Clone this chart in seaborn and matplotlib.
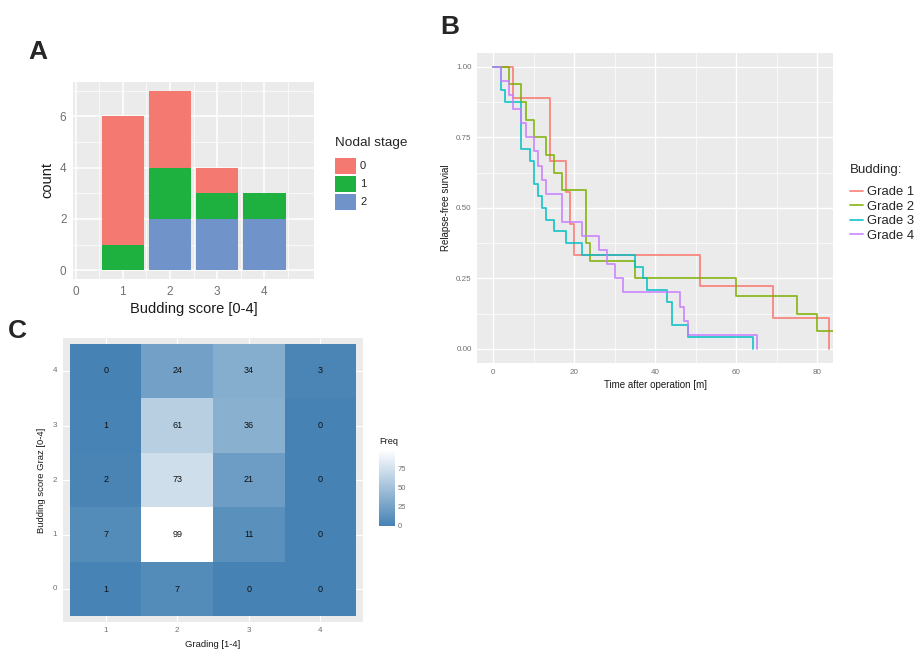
import numpy as np
import pandas as pd
import matplotlib
matplotlib.use("Agg")
import matplotlib.pyplot as plt
import seaborn as sns
from matplotlib.colors import LinearSegmentedColormap
from matplotlib.patches import Patch
from matplotlib.lines import Line2D

# --- A: budding score vs nodal stage (counts)
scores = [1, 2, 3, 4]
stage0 = [5, 3, 1, 0]
stage1 = [1, 2, 1, 1]
stage2 = [0, 2, 2, 2]
stage_labels = ["0", "1", "2"]
stage_colors = ["#F47A71", "#1EB13F", "#7094CA"]

# --- B: relapse-free survival steps per budding grade
g1_time = [0, 5, 14, 18, 19, 20, 51, 69, 82.8]
g1_surv = [1, 0.889, 0.667, 0.556, 0.444, 0.333, 0.222, 0.111, 0]
g2_time = [0, 4, 7, 8, 10, 13, 15, 17, 23, 24, 35, 60, 75, 80, 84]
g2_surv = [1, 0.9375, 0.875, 0.8125, 0.75, 0.6875, 0.625, 0.5625, 0.375,
           0.3125, 0.25, 0.1875, 0.125, 0.0625, 0.0625]
g3_time = [0, 2, 3, 7, 9, 10, 11, 12, 13, 15, 18, 22, 35, 37, 38, 43, 44, 48, 64]
g3_surv = [1, 0.917, 0.875, 0.708, 0.667, 0.583, 0.542, 0.5, 0.458, 0.417,
           0.375, 0.333, 0.292, 0.25, 0.208, 0.167, 0.083, 0.042, 0]
g4_time = [0, 2, 4, 5, 7, 8, 10, 11, 12, 13, 17, 22, 26, 28, 30, 32, 46, 47, 48, 65]
g4_surv = [1, 0.95, 0.9, 0.85, 0.8, 0.75, 0.7, 0.65, 0.6, 0.55, 0.45, 0.4,
           0.35, 0.3, 0.25, 0.2, 0.15, 0.1, 0.05, 0]
grade_labels = ["Grade 1", "Grade 2", "Grade 3", "Grade 4"]
grade_colors = ["#F8766D", "#7CAE00", "#00BFC4", "#C77CFF"]

# --- C: budding score Graz vs grading
grading = ["1", "2", "3", "4"]
budding_graz = ["4", "3", "2", "1", "0"]
freq = [[0, 24, 34, 3],
        [1, 61, 36, 0],
        [2, 73, 21, 0],
        [7, 99, 11, 0],
        [1, 7, 0, 0]]

sns.set_theme(style="darkgrid", rc={
    "axes.facecolor": "#EBEBEB", "grid.color": "white", "axes.linewidth": 0,
    "xtick.major.size": 2.5, "ytick.major.size": 2.5,
    "xtick.major.width": 0.6, "ytick.major.width": 0.6,
    "xtick.color": "#333333", "ytick.color": "#333333",
})
plt.rcParams["font.family"] = ["Liberation Sans", "DejaVu Sans"]

W, H = 921, 654
fig = plt.figure(figsize=(9.21, 6.54), dpi=100)

def box(l, t, r, b):
    return [l / W, 1 - b / H, (r - l) / W, (b - t) / H]

tick_grey = "#707070"

# ---------------- panel A
axA = fig.add_axes(box(72.7, 81.7, 314, 279.3))
dfA = pd.DataFrame({"score": scores * 3,
                    "stage": ["0"] * 4 + ["1"] * 4 + ["2"] * 4,
                    "n": stage0 + stage1 + stage2})
sns.histplot(data=dfA, x="score", hue="stage", weights="n", multiple="stack",
             discrete=True, shrink=0.9, hue_order=stage_labels,
             palette=stage_colors, alpha=1, linewidth=0, legend=False, ax=axA)
axA.set_xlim(-0.06, 5.05)
axA.set_ylim(-0.35, 7.35)
axA.set_xticks([0, 1, 2, 3, 4])
axA.set_yticks([0, 2, 4, 6])
axA.set_xticks([0.5, 1.5, 2.5, 3.5, 4.5], minor=True)
axA.set_yticks([1, 3, 5, 7], minor=True)
axA.grid(which="major", linewidth=1.1)
axA.grid(which="minor", linewidth=0.5, color="white")
axA.tick_params(which="minor", length=0)
axA.tick_params(labelsize=8.5, labelcolor=tick_grey, pad=2)
axA.set_xlabel("Budding score [0-4]", fontsize=10.5, color="#1a1a1a", labelpad=3)
axA.set_ylabel("count", fontsize=10.5, color="#1a1a1a", labelpad=4)

fig.text(335 / W, 1 - 143.3 / H, "Nodal stage", fontsize=9.7, va="center", ha="left")
handlesA = [Patch(facecolor=c, edgecolor="none") for c in stage_colors]
fig.legend(handlesA, stage_labels, loc="upper left",
           bbox_to_anchor=(335 / W, 1 - 157.7 / H), frameon=False, fontsize=8,
           handlelength=1.89, handleheight=1.89, labelspacing=0.14,
           handletextpad=0.36, borderpad=0, borderaxespad=0)

# ---------------- panel B
axB = fig.add_axes(box(477.3, 52.7, 833.3, 363))
rows = []
for lab, t, s in zip(grade_labels, [g1_time, g2_time, g3_time, g4_time],
                     [g1_surv, g2_surv, g3_surv, g4_surv]):
    rows += [(lab, ti, si) for ti, si in zip(t, s)]
dfB = pd.DataFrame(rows, columns=["grade", "time", "surv"])
sns.lineplot(data=dfB, x="time", y="surv", hue="grade", palette=grade_colors,
             estimator=None, sort=False, drawstyle="steps-post", linewidth=1.3,
             alpha=0.85, legend=False, ax=axB)
axB.set_xlim(-3.9, 83.9)
axB.set_ylim(-0.05, 1.05)
axB.set_xticks([0, 20, 40, 60, 80])
axB.set_yticks([0, 0.25, 0.5, 0.75, 1.0])
axB.set_yticklabels(["0.00", "0.25", "0.50", "0.75", "1.00"])
axB.set_xticks([10, 30, 50, 70], minor=True)
axB.set_yticks([0.125, 0.375, 0.625, 0.875], minor=True)
axB.grid(which="major", linewidth=1.0)
axB.grid(which="minor", linewidth=0.5, color="white")
axB.tick_params(which="minor", length=0)
axB.tick_params(labelsize=5.8, labelcolor=tick_grey, pad=2, length=2)
axB.set_xlabel("Time after operation [m]", fontsize=7, color="#1a1a1a", labelpad=3)
axB.set_ylabel("Relapse-free survial", fontsize=7, color="#1a1a1a", labelpad=4)

fig.text(850 / W, 1 - 170 / H, "Budding:", fontsize=9.5, va="center", ha="left")
handlesB = [Line2D([0], [0], color=c, lw=1.3, alpha=0.85) for c in grade_colors]
fig.legend(handlesB, grade_labels, loc="upper left",
           bbox_to_anchor=(850 / W, 1 - 186 / H), frameon=False, fontsize=9.4,
           handlelength=0.97, handleheight=0.7, labelspacing=0.19,
           handletextpad=0.3, borderpad=0, borderaxespad=0)

# ---------------- panel C
axC = fig.add_axes(box(62.7, 338.3, 363.3, 621.7))
caxC = fig.add_axes(box(379, 450, 394.5, 526))
dfC = pd.DataFrame(freq, index=budding_graz, columns=grading)
cmap = LinearSegmentedColormap.from_list("steel_white", ["#4682B4", "#FFFFFF"])
sns.heatmap(dfC, ax=axC, cmap=cmap, vmin=0, vmax=99, annot=True, fmt="d",
            annot_kws={"size": 6.5, "color": "#111111"}, cbar_ax=caxC,
            cbar_kws={"ticks": [0, 25, 50, 75]})
axC.set_facecolor("#EBEBEB")
axC.set_xlim(-0.1, 4.1)
axC.set_ylim(5.1, -0.1)
axC.set_axisbelow(True)
axC.grid(True, color="white", linewidth=0.8)
axC.tick_params(labelsize=5.8, labelcolor=tick_grey, length=2, pad=2)
axC.set_yticklabels(budding_graz, rotation=0)
axC.set_xticklabels(grading, rotation=0)
axC.set_xlabel("Grading [1-4]", fontsize=6.8, color="#1a1a1a", labelpad=4)
axC.set_ylabel("Budding score Graz [0-4]", fontsize=6.8, color="#1a1a1a", labelpad=5)

cbar = axC.collections[0].colorbar
cbar.outline.set_visible(False)
cbar.ax.tick_params(labelsize=5.5, labelcolor=tick_grey, color="white",
                    direction="in", length=3, width=0.6, pad=2)
cbar.ax.set_title("Freq", fontsize=6.6, loc="left", pad=4, color="#1a1a1a")

# panel letters
fig.text(38 / W, 1 - 52 / H, "A", fontsize=19, fontweight="bold", ha="center", va="center")
fig.text(450 / W, 1 - 27 / H, "B", fontsize=19, fontweight="bold", ha="center", va="center")
fig.text(17 / W, 1 - 331 / H, "C", fontsize=19, fontweight="bold", ha="center", va="center")

fig.savefig("out.png", dpi=100)
